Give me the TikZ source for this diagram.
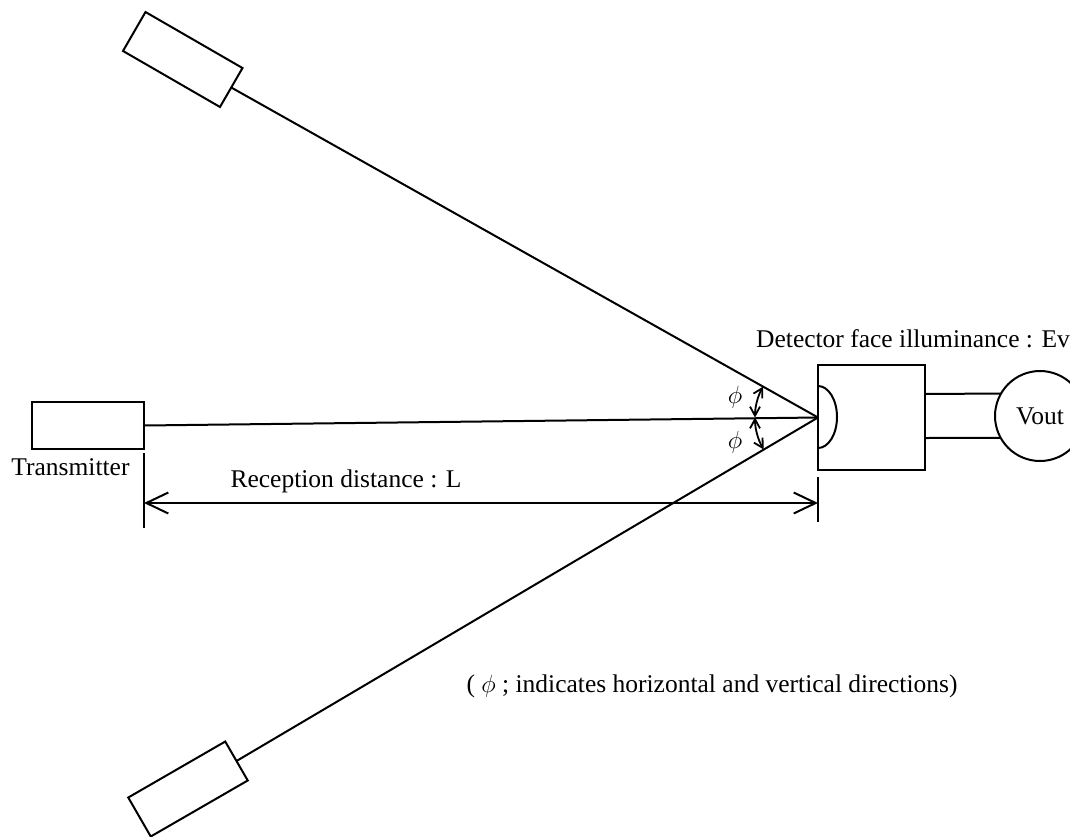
\documentclass[tikz,border=0pt]{standalone}
\usepackage{fontspec}
\setmainfont{Liberation Serif}
\usetikzlibrary{arrows.meta,calc}
\begin{document}
\begin{tikzpicture}[x=1pt,y=-1pt, line width=2pt,
  box/.style={draw, rectangle, inner sep=0pt, outer sep=0pt},
  lbl/.style={font=\fontsize{25.5}{30}\selectfont, inner sep=0pt, anchor=base},
  phil/.style={font=\fontsize{25}{28}\selectfont, inner sep=0pt, anchor=center},
  ang/.style={line width=1.8pt, {Straight Barb[length=9pt,width=10pt]}-{Straight Barb[length=9pt,width=10pt]}},
  dim/.style={line width=2pt, {Straight Barb[length=22pt,width=21pt]}-{Straight Barb[length=22pt,width=21pt]}}
]
\useasboundingbox (0,0) rectangle (1070,836);
\clip (0,0) rectangle (1070,836);

% transmitters
\node[box, minimum width=112pt, minimum height=47pt] (tx) at (88,425.5) {};
\node[box, minimum width=112pt, minimum height=45pt, rotate=-30] (s1) at (182.75,59.5) {};
\node[box, minimum width=112pt, minimum height=45pt, rotate=30] (s2) at (188,789) {};

% detector
\node[box, minimum width=107pt, minimum height=105pt] (det) at (871.5,417.5) {};
\coordinate (apex) at (det.west);
\draw ($(det.west)+(0,-31.5)$) arc[start angle=-90, end angle=90, x radius=19, y radius=31];

% output meter
\node[draw, circle, minimum size=90pt, inner sep=0pt, outer sep=0pt,
      font=\fontsize{25.5}{30}\selectfont] (vout) at (1040,416) {Vout};
\draw ($(det.east)+(0,-23.5)$) -- (vout.150.7);
\draw ($(det.east)+(0,20.5)$) -- (vout.209.3);

% rays
\draw (s1.east) -- (apex);
\draw (s2.east) -- (apex);
\draw (tx.east) -- (apex);

% angle arcs
\draw[ang] ($(apex)+(180:63)$) arc[start angle=180, end angle=209.4, radius=63];
\draw[ang] ($(apex)+(180:63)$) arc[start angle=180, end angle=149.5, radius=63];
\node[phil] (p1) at (735,397) {$\phi$};
\node[phil] (p2) at (735,442) {$\phi$};

% reception distance
\coordinate (tl1) at (144,453);
\coordinate (tl2) at (144,528);
\coordinate (tr1) at (818,477);
\coordinate (tr2) at (818,522);
\draw (tl1) -- (tl2);
\draw (tr1) -- (tr2);
\coordinate (dl) at (144,503);
\coordinate (dr) at (818,503);
\draw[dim] (dl) -- (dr);

% texts
\node[lbl] (dettxt) at (913,347) {Detector face illuminance : Ev};
\node[lbl] (txtxt) at (70.5,475) {Transmitter};
\node[lbl] (dist) at (346,487) {Reception distance : L};
\node[lbl] (note) at (712,692) {( {\fontsize{24}{28}\selectfont$\phi$} ; indicates horizontal and vertical directions)};
\end{tikzpicture}
\end{document}
